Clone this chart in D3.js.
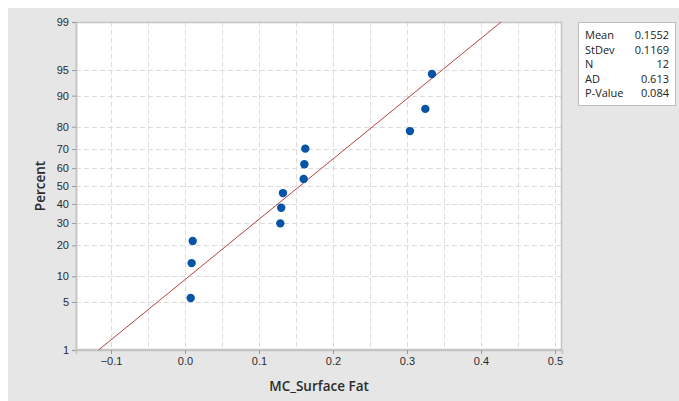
<!DOCTYPE html>
<html>
<head>
<meta charset="utf-8">
<script src="https://cdn.jsdelivr.net/npm/d3@7"></script>
<style>
  html, body { margin: 0; padding: 0; background: #ffffff; }
  svg { display: block; font-family: "Open Sans", "Noto Sans", sans-serif; }
</style>
</head>
<body>
<svg id="chart" width="679" height="401"></svg>
<script>
// Observed MC_Surface Fat values (sorted) and their plotting percentiles
const surfaceFat = [0.0077, 0.0090, 0.0104, 0.1288, 0.1300, 0.1324, 0.1604, 0.1613, 0.1626, 0.3040, 0.3248, 0.3338];
const percentiles = [5.6, 13.7, 21.8, 29.8, 37.9, 46.0, 54.0, 62.1, 70.2, 78.2, 86.3, 94.4];

// Fitted normal distribution parameters
const fitMean = 0.1552;
const fitStDev = 0.1169;

// Summary table
const statLabels = ["Mean", "StDev", "N", "AD", "P-Value"];
const statValues = ["0.1552", "0.1169", "12", "0.613", "0.084"];

// Axis ticks
const xTicks = [-0.1, 0.0, 0.1, 0.2, 0.3, 0.4, 0.5];
const xGrid = [-0.1, -0.05, 0.0, 0.05, 0.1, 0.15, 0.2, 0.25, 0.3, 0.35, 0.4, 0.45, 0.5];
const yTicks = [1, 5, 10, 20, 30, 40, 50, 60, 70, 80, 90, 95, 99];

// Standard normal quantile (Acklam's approximation)
function normInv(p) {
  const a = [-3.969683028665376e+01, 2.209460984245205e+02, -2.759285104469687e+02, 1.383577518672690e+02, -3.066479806614716e+01, 2.506628277459239e+00];
  const b = [-5.447609879822406e+01, 1.615858368580409e+02, -1.556989798598866e+02, 6.680131188771972e+01, -1.328068155288572e+01];
  const c = [-7.784894002430293e-03, -3.223964580411365e-01, -2.400758277161838e+00, -2.549732539343734e+00, 4.374664141464968e+00, 2.938163982698783e+00];
  const d = [7.784695709041462e-03, 3.224671290700398e-01, 2.445134137142996e+00, 3.754408661907416e+00];
  const pl = 0.02425;
  let q, r;
  if (p < pl) {
    q = Math.sqrt(-2 * Math.log(p));
    return (((((c[0]*q+c[1])*q+c[2])*q+c[3])*q+c[4])*q+c[5]) / ((((d[0]*q+d[1])*q+d[2])*q+d[3])*q+1);
  } else if (p <= 1 - pl) {
    q = p - 0.5; r = q * q;
    return (((((a[0]*r+a[1])*r+a[2])*r+a[3])*r+a[4])*r+a[5])*q / (((((b[0]*r+b[1])*r+b[2])*r+b[3])*r+b[4])*r+1);
  } else {
    q = Math.sqrt(-2 * Math.log(1 - p));
    return -(((((c[0]*q+c[1])*q+c[2])*q+c[3])*q+c[4])*q+c[5]) / ((((d[0]*q+d[1])*q+d[2])*q+d[3])*q+1);
  }
}

const svg = d3.select("#chart");
const W = 679, H = 401;

// Panel background
svg.append("rect").attr("x", 8).attr("y", 8).attr("width", W - 8).attr("height", H - 8).attr("fill", "#e6e6e6");

const plot = { left: 76, top: 22, right: 562, bottom: 350 };

const x = d3.scaleLinear().domain([-0.1473, 0.5095]).range([plot.left, plot.right]);
// Probability scale: linear in normal quantile
const zScale = d3.scaleLinear().domain([normInv(0.01), normInv(0.99)]).range([plot.bottom, plot.top]);
const y = pct => zScale(normInv(pct / 100));

svg.append("rect")
  .attr("x", plot.left).attr("y", plot.top)
  .attr("width", plot.right - plot.left).attr("height", plot.bottom - plot.top)
  .attr("fill", "#ffffff");

// Grid
const grid = svg.append("g").attr("stroke", "#dcdcdc").attr("stroke-width", 1).attr("stroke-dasharray", "5,3");
grid.selectAll("line.v").data(xGrid).join("line")
  .attr("x1", d => Math.round(x(d)) + 0.5).attr("x2", d => Math.round(x(d)) + 0.5)
  .attr("y1", plot.top).attr("y2", plot.bottom);
grid.selectAll("line.h").data(yTicks.slice(1, -1)).join("line")
  .attr("y1", d => Math.round(y(d)) + 0.5).attr("y2", d => Math.round(y(d)) + 0.5)
  .attr("x1", plot.left).attr("x2", plot.right);

// Frame
svg.append("rect")
  .attr("x", plot.left + 0.5).attr("y", plot.top + 0.5)
  .attr("width", plot.right - plot.left - 1).attr("height", plot.bottom - plot.top - 1)
  .attr("fill", "none").attr("stroke", "#c4c4c4").attr("stroke-width", 1.5);

// Axes
const xAxis = d3.axisBottom(x).tickValues(xTicks).tickFormat(d3.format(".1f")).tickSize(4).tickPadding(3);
const gx = svg.append("g").attr("transform", `translate(0,${plot.bottom})`).call(xAxis);
const yAxis = d3.axisLeft(zScale).tickValues(yTicks.map(p => normInv(p / 100)))
  .tickFormat((d, i) => yTicks[i]).tickSize(4).tickPadding(3);
const gy = svg.append("g").attr("transform", `translate(${plot.left},0)`).call(yAxis);
[gx, gy].forEach(g => {
  g.select(".domain").attr("stroke", "#c4c4c4").attr("stroke-width", 1.5);
  g.selectAll(".tick line").attr("stroke", "#9a9a9a");
  g.selectAll(".tick text").attr("fill", "#2b2b2b").style("font-size", "11px");
});
gx.selectAll(".tick text").text(d => d === 0 ? "0.0" : d3.format(".1f")(d));

// Fitted line
const lineP = [1, 99];
svg.append("line")
  .attr("x1", x(fitMean + normInv(lineP[0] / 100) * fitStDev)).attr("y1", y(lineP[0]))
  .attr("x2", x(fitMean + normInv(lineP[1] / 100) * fitStDev)).attr("y2", y(lineP[1]))
  .attr("stroke", "#b6403f").attr("stroke-width", 1);

// Points
svg.append("g").selectAll("circle").data(surfaceFat).join("circle")
  .attr("cx", d => x(d)).attr("cy", (d, i) => y(percentiles[i]))
  .attr("r", 4.2).attr("fill", "#0554a8");

// Axis titles
svg.append("text").attr("x", (plot.left + plot.right) / 2).attr("y", 391)
  .attr("text-anchor", "middle").style("font-size", "13.5px").style("font-weight", 600)
  .attr("fill", "#2b2b2b").text("MC_Surface Fat");
svg.append("text").attr("transform", `translate(45,${(plot.top + plot.bottom) / 2}) rotate(-90)`)
  .attr("text-anchor", "middle").style("font-size", "13.5px").style("font-weight", 600)
  .attr("fill", "#2b2b2b").text("Percent");

// Stats box
const box = svg.append("g");
box.append("rect").attr("x", 578.5).attr("y", 22.5).attr("width", 97).attr("height", 83)
  .attr("fill", "#ffffff").attr("stroke", "#bdbdbd");
statLabels.forEach((lab, i) => {
  const yy = 39 + i * 14.5;
  box.append("text").attr("x", 585).attr("y", yy).style("font-size", "11px").attr("fill", "#222").text(lab);
  box.append("text").attr("x", 669).attr("y", yy).attr("text-anchor", "end").style("font-size", "11px").attr("fill", "#222").text(statValues[i]);
});
</script>
</body>
</html>
